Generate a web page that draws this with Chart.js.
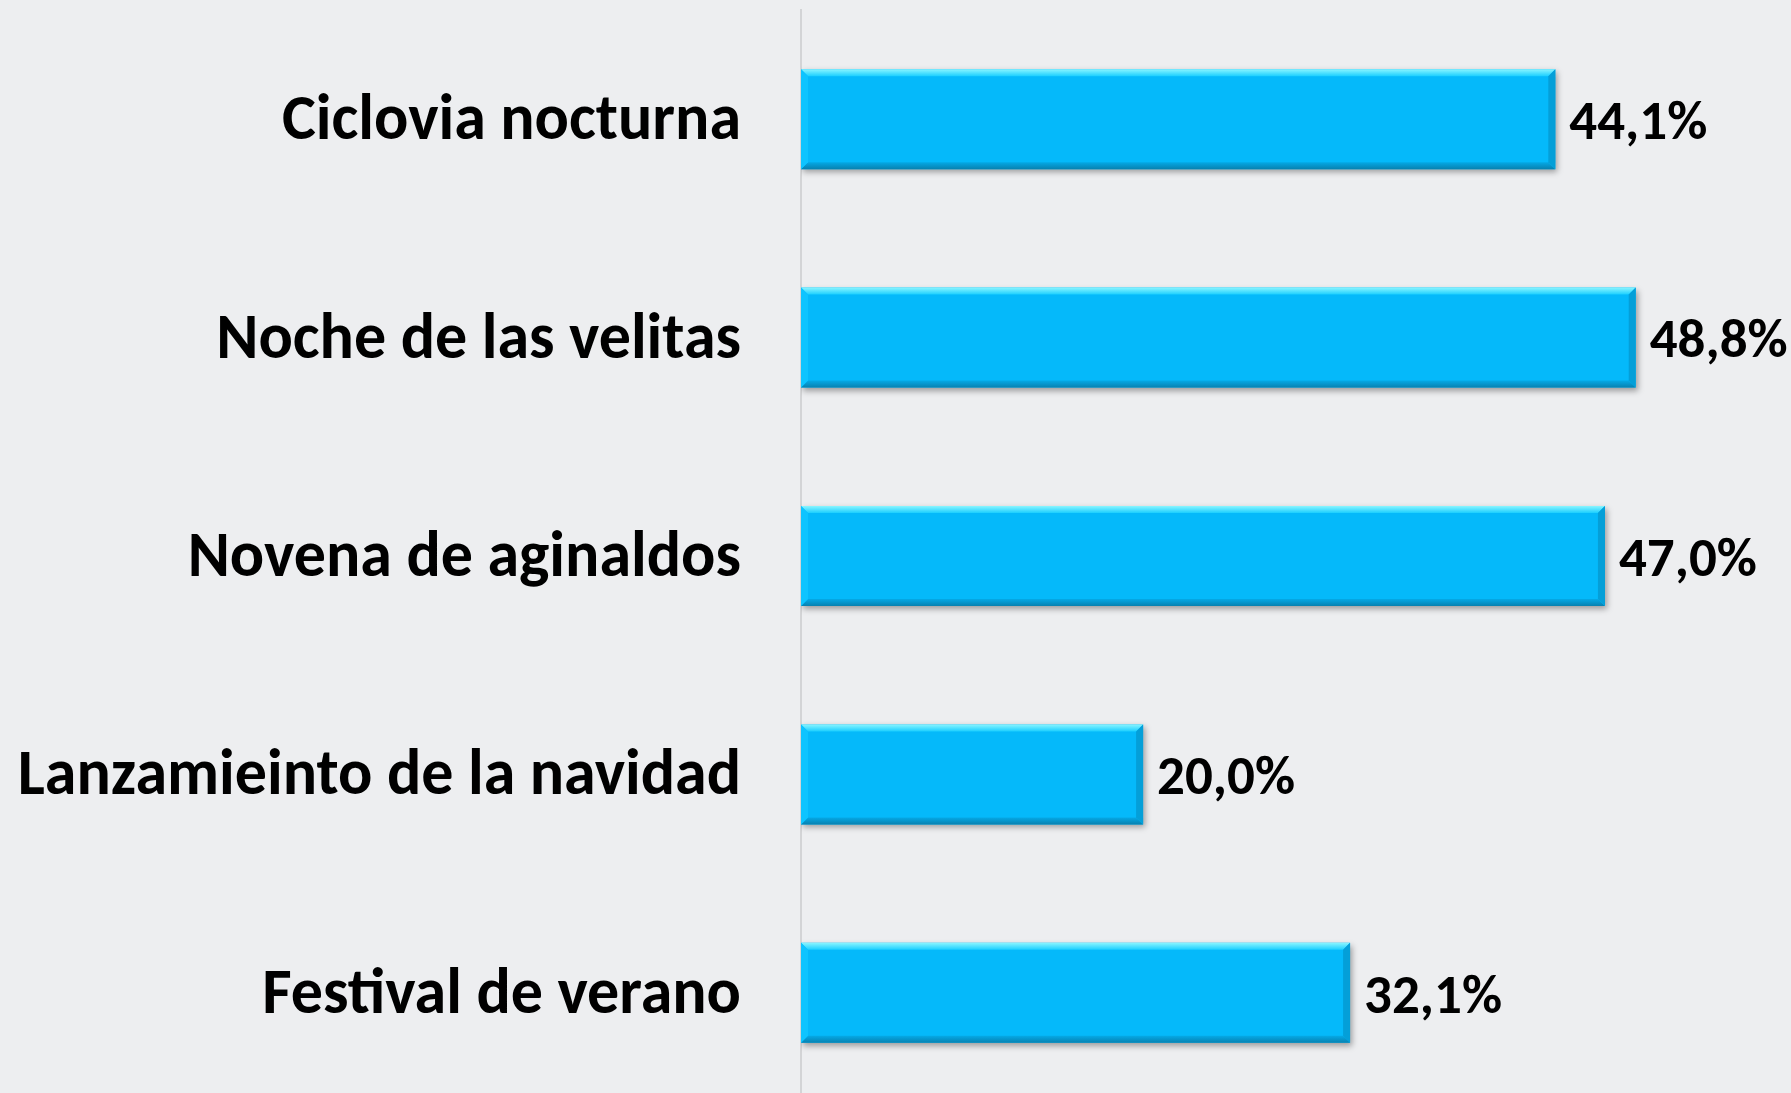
<!DOCTYPE html>
<html>
<head>
<meta charset="utf-8">
<script src="https://cdn.jsdelivr.net/npm/chart.js@4.4.1/dist/chart.umd.min.js"></script>
<style>
  html, body { margin: 0; padding: 0; overflow: hidden; background: #edeef0; }
  #wrap { position: relative; width: 1791px; height: 1104px; }
</style>
</head>
<body>
<div id="wrap"><canvas id="barChart"></canvas></div>
<script>
const categories = ['Ciclovia nocturna', 'Noche de las velitas', 'Novena de aginaldos', 'Lanzamieinto de la navidad', 'Festival de verano'];
const values = [44.1, 48.8, 47.0, 20.0, 32.1];
const valueLabels = ['44,1%', '48,8%', '47,0%', '20,0%', '32,1%'];

const fontFamily = 'Carlito, Lato, "Open Sans", sans-serif';

// bevel on each bar, like the office chart
const bevelPlugin = {
  id: 'bevel',
  afterDatasetsDraw(chart) {
    const ctx = chart.ctx;
    const meta = chart.getDatasetMeta(0);
    meta.data.forEach(bar => {
      const left = bar.base;
      const right = bar.x;
      const top = bar.y - bar.height / 2;
      const bottom = bar.y + bar.height / 2;
      const b = 7;
      ctx.save();
      // top edge
      let g = ctx.createLinearGradient(0, top, 0, top + b);
      g.addColorStop(0, '#8af5ff');
      g.addColorStop(1, '#1ccfff');
      ctx.fillStyle = g;
      ctx.beginPath();
      ctx.moveTo(left, top); ctx.lineTo(right, top); ctx.lineTo(right - b, top + b); ctx.lineTo(left + b, top + b);
      ctx.closePath(); ctx.fill();
      // bottom edge
      g = ctx.createLinearGradient(0, bottom - b, 0, bottom);
      g.addColorStop(0, '#05a9e6');
      g.addColorStop(1, '#0781b0');
      ctx.fillStyle = g;
      ctx.beginPath();
      ctx.moveTo(left, bottom); ctx.lineTo(right, bottom); ctx.lineTo(right - b, bottom - b); ctx.lineTo(left + b, bottom - b);
      ctx.closePath(); ctx.fill();
      // right edge
      ctx.fillStyle = '#049fd8';
      ctx.beginPath();
      ctx.moveTo(right, top); ctx.lineTo(right, bottom); ctx.lineTo(right - b, bottom - b); ctx.lineTo(right - b, top + b);
      ctx.closePath(); ctx.fill();
      // left edge
      ctx.fillStyle = '#0ec4ff';
      ctx.beginPath();
      ctx.moveTo(left, top); ctx.lineTo(left, bottom); ctx.lineTo(left + b, bottom - b); ctx.lineTo(left + b, top + b);
      ctx.closePath(); ctx.fill();
      ctx.restore();
    });
  }
};

const shadowPlugin = {
  id: 'barShadow',
  beforeDatasetsDraw(chart) {
    const ctx = chart.ctx;
    ctx.save();
    ctx.shadowColor = 'rgba(0,0,0,0.35)';
    ctx.shadowBlur = 6;
    ctx.shadowOffsetX = 2;
    ctx.shadowOffsetY = 3;
  },
  afterDatasetsDraw(chart) {
    chart.ctx.restore();
  }
};

const valueLabelPlugin = {
  id: 'valueLabels',
  afterDatasetsDraw(chart) {
    const ctx = chart.ctx;
    const meta = chart.getDatasetMeta(0);
    ctx.save();
    ctx.font = 'bold 55px ' + fontFamily;
    ctx.fillStyle = '#000';
    ctx.textAlign = 'left';
    ctx.textBaseline = 'middle';
    meta.data.forEach((bar, i) => {
      ctx.fillText(valueLabels[i], bar.x + 14, bar.y + 6);
    });
    ctx.restore();
  }
};

new Chart(document.getElementById('barChart'), {
  type: 'bar',
  data: {
    labels: categories,
    datasets: [{
      data: values,
      backgroundColor: '#05b9fa',
      borderWidth: 0,
      categoryPercentage: 1,
      barPercentage: 0.458
    }]
  },
  options: {
    indexAxis: 'y',
    responsive: true,
    maintainAspectRatio: false,
    animation: false,
    layout: { padding: { top: 10, bottom: 2, left: 0, right: 15 } },
    plugins: { legend: { display: false }, tooltip: { enabled: false } },
    scales: {
      x: { display: false, min: 0, max: 57 },
      y: {
        grid: { display: false, drawTicks: false },
        border: { display: true, color: '#d3d4d6', width: 2 },
        ticks: {
          color: '#000',
          padding: 60,
          labelOffset: 4,
          font: { family: fontFamily, size: 64, weight: 'bold' }
        },
        afterFit(scale) {
          scale.width = 801;
          scale.paddingTop = 0;
          scale.paddingBottom = 0;
        }
      }
    }
  },
  plugins: [shadowPlugin, bevelPlugin, valueLabelPlugin]
});
</script>
</body>
</html>
